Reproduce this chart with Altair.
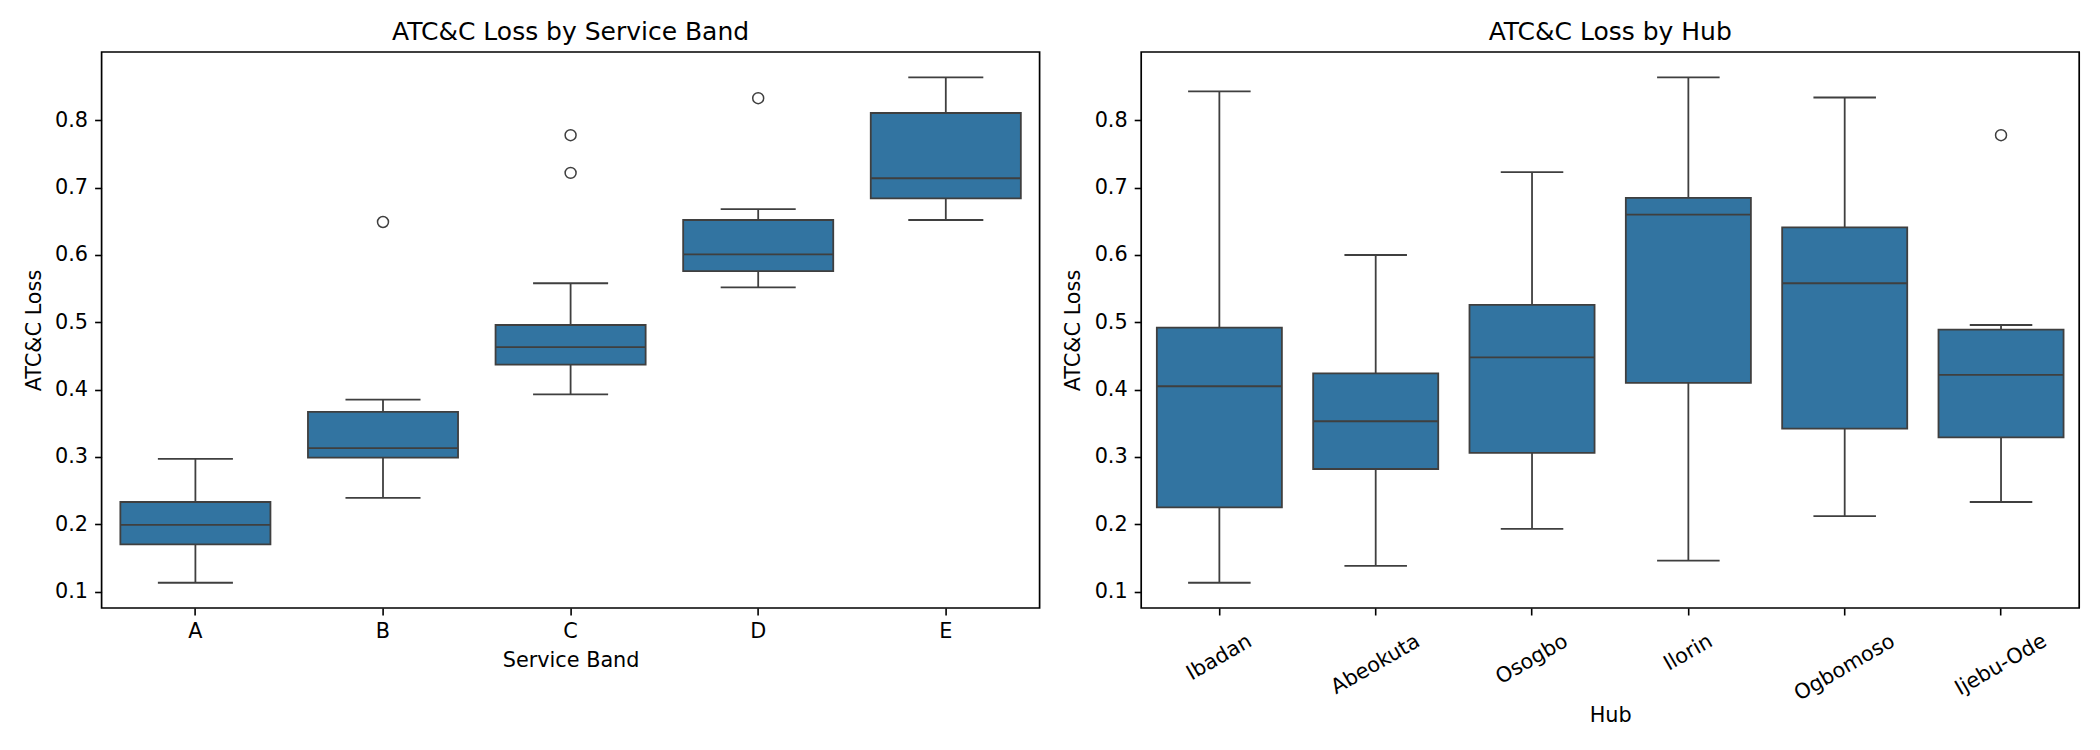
import altair as alt
import pandas as pd

# ---- data ----
bands = ["A", "B", "C", "D", "E"]
band_low = [0.113, 0.239, 0.393, 0.552, 0.652]
band_q1 = [0.170, 0.299, 0.437, 0.576, 0.684]
band_med = [0.199, 0.313, 0.463, 0.601, 0.714]
band_q3 = [0.233, 0.367, 0.496, 0.652, 0.811]
band_high = [0.297, 0.385, 0.558, 0.668, 0.864]
band_out_cat = ["B", "C", "C", "D"]
band_out_val = [0.649, 0.778, 0.722, 0.833]

hubs = ["Ibadan", "Abeokuta", "Osogbo", "Ilorin", "Ogbomoso", "Ijebu-Ode"]
hub_low = [0.113, 0.138, 0.193, 0.146, 0.212, 0.233]
hub_q1 = [0.225, 0.282, 0.306, 0.410, 0.342, 0.329]
hub_med = [0.405, 0.353, 0.448, 0.660, 0.558, 0.422]
hub_q3 = [0.492, 0.424, 0.526, 0.685, 0.641, 0.489]
hub_high = [0.843, 0.600, 0.723, 0.864, 0.834, 0.496]
hub_out_cat = ["Ijebu-Ode"]
hub_out_val = [0.778]

y_ticks = [0.1, 0.2, 0.3, 0.4, 0.5, 0.6, 0.7, 0.8]

FONT = "DejaVu Sans"
BOX = "#3274a1"
LINE = "#3f3f3f"
Y_DOMAIN = [0.0755, 0.9016]
W, H = 938, 556
LW = 1.8


def panel(cats, low, q1, med, q3, high, out_cat, out_val, title, xtitle, xaxis):
    df = pd.DataFrame({"cat": cats, "low": low, "q1": q1, "med": med, "q3": q3, "high": high})
    odf = pd.DataFrame({"cat": out_cat, "val": out_val})
    step = W / len(cats)
    xs = alt.Scale(paddingInner=0, paddingOuter=0)
    ys = alt.Scale(domain=Y_DOMAIN, nice=False, zero=False)
    yaxis = alt.Axis(values=y_ticks, format=".1f", grid=False, domain=False,
                     tickSize=7, tickWidth=1.6, tickColor="black",
                     labelPadding=7, labelFontSize=20.8, labelColor="black", labelFont=FONT,
                     titleFontSize=20.8, titleFontWeight="normal", titleColor="black",
                     titleFont=FONT, titlePadding=10.5)

    def X():
        return alt.X("cat:N", sort=cats, scale=xs, axis=xaxis, title=xtitle)

    def Y(f):
        return alt.Y(f"{f}:Q", scale=ys, axis=yaxis, title="ATC&C Loss")

    base = alt.Chart(df)
    lower = base.mark_rule(color=LINE, strokeWidth=LW).encode(x=X(), y=Y("low"), y2="q1:Q")
    upper = base.mark_rule(color=LINE, strokeWidth=LW).encode(x=X(), y=Y("q3"), y2="high:Q")
    box = base.mark_bar(width=alt.RelativeBandSize(0.8), fill=BOX, stroke=LINE,
                        strokeWidth=LW).encode(x=X(), y=Y("q1"), y2="q3:Q")
    median = base.mark_tick(size=step * 0.8, thickness=LW, color=LINE, opacity=1).encode(x=X(), y=Y("med"))
    cap_lo = base.mark_tick(size=step * 0.4, thickness=LW, color=LINE, opacity=1).encode(x=X(), y=Y("low"))
    cap_hi = base.mark_tick(size=step * 0.4, thickness=LW, color=LINE, opacity=1).encode(x=X(), y=Y("high"))
    outl = alt.Chart(odf).mark_point(shape="circle", filled=False, size=120, stroke=LINE,
                                     strokeWidth=1.5, opacity=1).encode(x=X(), y=Y("val"))
    return alt.layer(lower, upper, box, median, cap_lo, cap_hi, outl).properties(
        width=W, height=H,
        title=alt.TitleParams(title, fontSize=25, font=FONT, fontWeight="normal", color="black",
                              anchor="middle", baseline="alphabetic", offset=-13),
    )


left_axis = alt.Axis(labelAngle=0, domain=False, grid=False, tickSize=7, tickWidth=1.6,
                     tickColor="black", labelPadding=7, labelFontSize=20.8, labelColor="black",
                     labelFont=FONT, titleFontSize=20.8, titleFontWeight="normal",
                     titleColor="black", titleFont=FONT, titlePadding=8.5)

# rotated labels: keep each rotated label's top at the same distance below the axis
widths = {"Ibadan": 71.2, "Abeokuta": 99.0, "Osogbo": 79.0, "Ilorin": 52.0,
          "Ogbomoso": 112.0, "Ijebu-Ode": 101.0}
expr = ""
for name, w in widths.items():
    pad = 13 + w / 4 + 10.4 - 7 + 8
    expr += f"datum.value == '{name}' ? {pad:.1f} : "
expr += "43"

right_axis = alt.Axis(labelAngle=-30, labelAlign="center", labelBaseline="middle",
                      domain=False, grid=False, tickSize=7, tickWidth=1.6, tickColor="black",
                      labelPadding={"expr": expr}, labelFontSize=20.8, labelColor="black",
                      labelFont=FONT, titleFontSize=20.8, titleFontWeight="normal",
                      titleColor="black", titleFont=FONT, titlePadding=1.5)

left = panel(bands, band_low, band_q1, band_med, band_q3, band_high, band_out_cat, band_out_val,
             "ATC&C Loss by Service Band", "Service Band", left_axis)
right = panel(hubs, hub_low, hub_q1, hub_med, hub_q3, hub_high, hub_out_cat, hub_out_val,
              "ATC&C Loss by Hub", "Hub", right_axis)

chart = alt.hconcat(left, right, spacing=20.6).properties(
    padding={"left": 21.6, "top": 19, "right": 10, "bottom": 5},
    background="white",
).configure(font=FONT).configure_view(stroke="black", strokeWidth=1.7)

chart.save("out.html", embed_options={"renderer": "svg", "actions": False})
